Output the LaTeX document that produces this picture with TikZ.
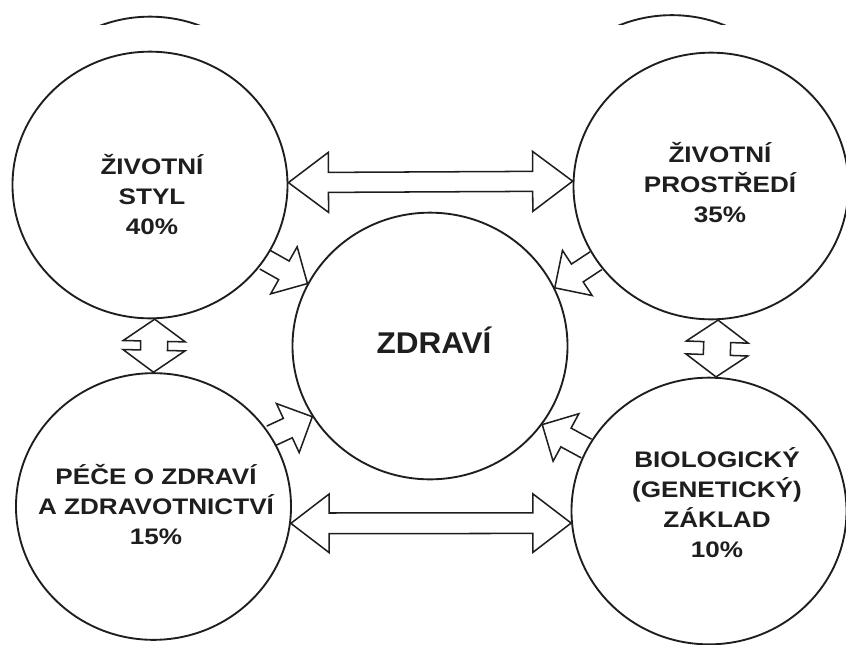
\documentclass[tikz,border=0pt]{standalone}
\usepackage{fontspec}
\usepackage{tikz}
\usetikzlibrary{calc, shapes.geometric}
\newfontfamily\lblfont[FakeStretch=1.16]{Liberation Sans}
\newfontfamily\hubfont[FakeStretch=1.05]{Liberation Sans}
\definecolor{ink}{HTML}{1E1E1E}

% hollow block arrow, one head: #1 tail, #2 tip, #3 shaft half, #4 head half, #5 head length
\newcommand{\fatarrow}[5]{%
  \coordinate (hb) at ($(#2)!#5!(#1)$);
  \draw[blockarr] ($(#1)!#3!90:(#2)$) -- ($(hb)!#3!90:(#2)$) -- ($(hb)!#4!90:(#2)$)
    -- (#2) -- ($(hb)!#4!-90:(#2)$) -- ($(hb)!#3!-90:(#2)$) -- ($(#1)!#3!-90:(#2)$);
}
% hollow block arrow, two heads
\newcommand{\fatdarrow}[5]{%
  \coordinate (ha) at ($(#1)!#5!(#2)$);
  \coordinate (hb) at ($(#2)!#5!(#1)$);
  \draw[blockarr] (#1) -- ($(ha)!#4!90:(#2)$) -- ($(ha)!#3!90:(#2)$)
    -- ($(hb)!#3!-90:(#1)$) -- ($(hb)!#4!-90:(#1)$) -- (#2)
    -- ($(hb)!#4!90:(#1)$) -- ($(hb)!#3!90:(#1)$)
    -- ($(ha)!#3!-90:(#2)$) -- ($(ha)!#4!-90:(#2)$) -- cycle;
}

\begin{document}
\begin{tikzpicture}[
  x=0.03cm, y=-0.03cm,
  ring/.style={ellipse, draw=ink, line width=1.6pt, inner sep=0pt,
               minimum width=8.25cm, minimum height=8.0cm},
  lbl/.style={font=\lblfont\bfseries\fontsize{19.2}{25.6}\selectfont,
              align=center, text=ink, inner sep=0pt},
  hublbl/.style={font=\hubfont\bfseries\fontsize{25.6}{30}\selectfont,
                 text=ink, inner sep=0pt, anchor=base},
  blockarr/.style={draw=ink, line width=1.3pt, line join=miter}
]
\clip (0,0) rectangle (846,644);

% scan strip at the top
\begin{scope}
  \clip (0,0) rectangle (846,24);
  \draw[ink, line width=1.6pt] (150,150) ellipse [x radius=4.125cm, y radius=4.0cm];
  \draw[ink, line width=1.6pt] (672,148.5) ellipse [x radius=4.125cm, y radius=4.0cm];
\end{scope}

% circles
\node[ring] (tl) at (150,185) {};
\node[ring] (tr) at (711,186) {};
\node[ring] (c)  at (430,346) {};
\node[ring] (bl) at (153.5,506.5) {};
\node[ring] (br) at (709,511) {};

% texts
\node[lbl] (tl-txt) at (152,195) {ŽIVOTNÍ\\STYL\\40\%};
\node[lbl] (tr-txt) at (720,183) {ŽIVOTNÍ\\PROSTŘEDÍ\\35\%};
\node[lbl] (bl-txt) at (156,505) {PÉČE O ZDRAVÍ\\A ZDRAVOTNICTVÍ\\15\%};
\node[lbl] (br-txt) at (717,503) {BIOLOGICKÝ\\(GENETICKÝ)\\ZÁKLAD\\10\%};
\node[hublbl] (c-txt) at (434,353) {ZDRAVÍ};

% outer pairs
\fatdarrow{tl.1}{tr.178}{0.30cm}{0.90cm}{1.2cm}
\fatdarrow{bl.-7}{br.185}{0.31cm}{0.88cm}{1.15cm}
\fatdarrow{tl.-88}{bl.90}{0.405cm}{0.93cm}{0.66cm}
\fatdarrow{tr.-87}{br.87}{0.405cm}{0.93cm}{0.66cm}

% into the centre
\fatarrow{tl.-33}{c.153}{0.32cm}{0.81cm}{0.81cm}
\fatarrow{tr.213}{c.25}{0.32cm}{0.81cm}{0.81cm}
\fatarrow{bl.31}{c.211}{0.32cm}{0.81cm}{0.81cm}
\fatarrow{br.153}{c.-35}{0.32cm}{0.81cm}{0.81cm}
\end{tikzpicture}
\end{document}
